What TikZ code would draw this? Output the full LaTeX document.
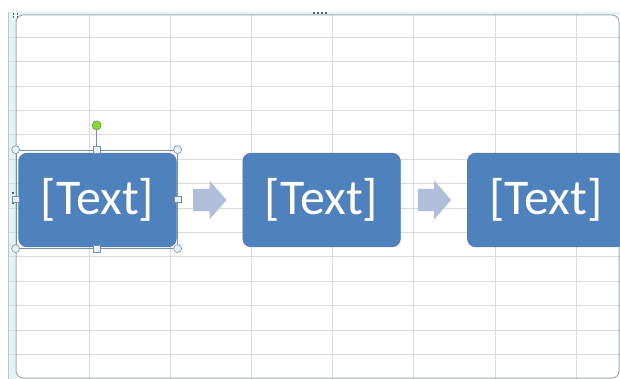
\documentclass[tikz,border=0pt]{standalone}
\usepackage{fontspec}
\setmainfont{Carlito}
\usetikzlibrary{positioning,calc,shapes.arrows}

\definecolor{gridgray}{HTML}{D9DADB}
\definecolor{edgegray}{HTML}{BFC3C6}
\definecolor{framegray}{HTML}{A3AAB0}
\definecolor{framecyan}{HTML}{E2F5F5}
\definecolor{boxblue}{HTML}{4F81BD}
\definecolor{boxedge}{HTML}{4A7BB5}
\definecolor{arrowblue}{HTML}{B0BEDA}
\definecolor{handlefill}{HTML}{E8F0F8}
\definecolor{handleedge}{HTML}{7A8FA6}
\definecolor{rotgreen}{HTML}{8CD43C}
\definecolor{rotedge}{HTML}{5C9A2C}
\definecolor{gripgray}{HTML}{5A5F66}

\begin{document}
\begin{tikzpicture}[x=1pt, y=-1pt,
    textbox/.style={rectangle, rounded corners=8pt, fill=boxblue, draw=boxedge,
      line width=0.6pt, minimum width=157.5pt, minimum height=93.5pt,
      inner sep=0pt, text=white, font=\fontsize{50}{58}\selectfont},
    flowarrow/.style={single arrow, fill=arrowblue, draw=none,
      inner xsep=0pt, inner ysep=10.85pt,
      minimum height=33.3pt, minimum width=38.5pt,
      single arrow head extend=8.4pt, single arrow tip angle=98, anchor=tail},
    selframe/.style={rectangle, draw=handleedge, line width=0.7pt,
      minimum width=161.3pt, minimum height=98.3pt, inner sep=0pt},
    cornerhandle/.style={circle, draw=handleedge, fill=handlefill,
      line width=0.6pt, minimum size=8pt, inner sep=0pt},
    sidehandle/.style={rectangle, draw=handleedge, fill=handlefill,
      line width=0.6pt, minimum size=6.5pt, inner sep=0pt},
    rothandle/.style={circle, draw=rotedge, fill=rotgreen,
      line width=0.6pt, minimum size=9pt, inner sep=0pt}]
    \useasboundingbox[fill=white] (0,0) rectangle (620,379);

    % Sheet border band
    \fill[framecyan] (8.9,12) rectangle (15.5,379);

    % Grid
    \foreach \k in {1,...,7}
        \draw[gridgray, line width=1pt] (8.4+81.1*\k,12) -- (8.4+81.1*\k,379);
    \foreach \k in {0,...,13}
        \draw[gridgray, line width=1pt] (9,37.3+24.4*\k) -- (620,37.3+24.4*\k);
    \draw[edgegray, line width=1pt] (8.4,12) -- (8.4,379);
    \fill[framecyan] (8.9,12) rectangle (620,15);

    % Frame
    \draw[framegray, line width=1pt, rounded corners=7pt] (16,15) rectangle (619,378);
    \foreach \x/\y in {13.3/14, 17.3/14, 13.3/17.3, 17.3/17.3}
        \fill[gripgray] (\x-0.8,\y-0.8) rectangle (\x+0.8,\y+0.8);
    \foreach \x in {314,318,322,326}
        \fill[gripgray] (\x-0.8,12.5) rectangle (\x+0.8,14.1);
    \foreach \y in {193.3,196.7,200,203.3}
        \fill[gripgray] (11.9,\y-0.8) rectangle (13.5,\y+0.8);

    % Boxes
    \node[textbox] (box1) at (97.5,200) {[Text]};
    \node[textbox, right=66pt of box1] (box2) {[Text]};
    \node[textbox, right=66.5pt of box2] (box3) {[Text]};

    % Arrows
    \node[flowarrow] (arr1) at ($(box1.east)+(16.4,0)$) {};
    \node[flowarrow] (arr2) at ($(box2.east)+(17,0)$) {};

    % Selection of the first box
    \node[selframe] (sel) at (96.65,199.15) {};
    \node[rothandle, above=19.5pt of sel.north, anchor=south] (rot) {};
    \draw[handleedge, line width=0.8pt] (rot) -- (sel.north);
    \foreach \a in {north west,north east,south west,south east}
        \node[cornerhandle] (h-\a) at (sel.\a) {};
    \foreach \a in {north,south,east,west}
        \node[sidehandle] (h-\a) at (sel.\a) {};
\end{tikzpicture}
\end{document}
